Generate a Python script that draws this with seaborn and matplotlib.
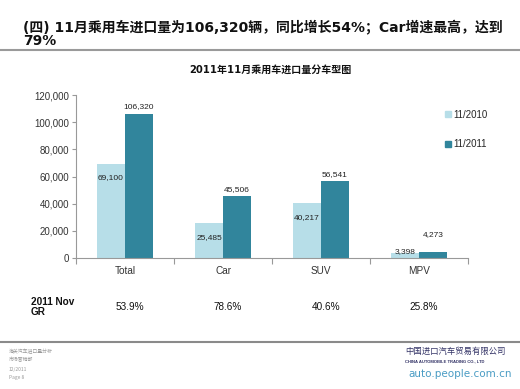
import matplotlib
matplotlib.use("Agg")
import matplotlib.pyplot as plt
import matplotlib.transforms as mtransforms
from matplotlib.lines import Line2D
import seaborn as sns
import pandas as pd

categories = ["Total", "Car", "SUV", "MPV"]
series_names = ["11/2010", "11/2011"]
values_2010 = [69100, 25485, 40217, 3398]
values_2011 = [106320, 45506, 56541, 4273]
growth_rates = ["53.9%", "78.6%", "40.6%", "25.8%"]
y_ticks = [0, 20000, 40000, 60000, 80000, 100000, 120000]

title_line1 = "(四) 11月乘用车进口量为106,320辆，同比增长54%；Car增速最高，达到"
title_line2 = "79%"
chart_title = "2011年11月乘用车进口量分车型图"
row_label = "2011 Nov\nGR"
footer_lines = ["海关汽车进口量分析", "市场营销部", "12/2011", "Page 8"]

sns.set_theme(style="white")
plt.rcParams["font.family"] = ["Liberation Sans", "Noto Sans CJK SC", "DejaVu Sans"]

light = "#b7dee8"
dark = "#31859c"

df = pd.DataFrame({
    "category": categories * 2,
    "series": [series_names[0]] * 4 + [series_names[1]] * 4,
    "value": values_2010 + values_2011,
})

fig = plt.figure(figsize=(5.2, 3.89), dpi=100)
ax = fig.add_axes([76 / 520, 1 - 258 / 389, 392 / 520, 163 / 389])

sns.barplot(data=df, x="category", y="value", hue="series",
            palette=[light, dark], width=0.57, gap=0, ax=ax,
            errorbar=None, saturation=1, legend=True, linewidth=0)

ax.set_xlim(-0.5, 3.5)
ax.set_ylim(0, 120000)
ax.set_yticks(y_ticks)
ax.set_yticklabels([f"{v:,}" for v in y_ticks], fontsize=7, color="#333333")
ax.set_xlabel("")
ax.set_ylabel("")
ax.tick_params(axis="x", length=0, labelsize=7.2, labelcolor="#333333", pad=6)
ax.set_xticks([-0.5, 0.5, 1.5, 2.5, 3.5], minor=True)
ax.tick_params(axis="x", which="minor", length=4, color="#999999", width=0.8, bottom=True)
ax.tick_params(axis="y", length=3, color="#999999", width=0.8, left=True, pad=2)
for s in ["top", "right"]:
    ax.spines[s].set_visible(False)
for s in ["left", "bottom"]:
    ax.spines[s].set_color("#999999")
    ax.spines[s].set_linewidth(0.8)
ax.grid(False)

# value labels
for cont, vals, kind in zip(ax.containers, [values_2010, values_2011], ["old", "new"]):
    for bar, v in zip(cont, vals):
        x = bar.get_x() + bar.get_width() / 2
        h = bar.get_height()
        if kind == "old":
            dy = -10 if h > 10000 else 1
        else:
            dy = 5 if h > 10000 else 13
        ax.annotate(f"{v:,}", (x, h), xytext=(0, dy), textcoords="offset points",
                    ha="center", va="center", fontsize=6, color="#222222")

# legend
handles = [Line2D([], [], marker="s", linestyle="none", markersize=5,
                  markerfacecolor=c, markeredgecolor=c) for c in (light, dark)]
ax.legend(handles, series_names, loc="upper left",
          bbox_to_anchor=(440 / 520, 1 - 105 / 389), bbox_transform=fig.transFigure,
          frameon=False, fontsize=7, labelspacing=2.0, handlelength=0.6,
          handletextpad=0.3, borderpad=0)

# titles
fig.text(23 / 520, 1 - 28 / 389, title_line1, fontsize=10, fontweight="bold",
         va="center", ha="left", color="#111111",
         family=["DejaVu Sans", "Noto Sans CJK SC"])
fig.text(23 / 520, 1 - 41 / 389, title_line2, fontsize=10, fontweight="bold",
         va="center", ha="left", color="#111111",
         family=["DejaVu Sans", "Noto Sans CJK SC"])
fig.add_artist(Line2D([0, 1], [1 - 50 / 389] * 2, color="#9a9a9a", lw=1.5,
                      transform=fig.transFigure))
fig.text(270 / 520, 1 - 70 / 389, chart_title, fontsize=7.2, fontweight="bold",
         ha="center", va="center", color="#111111",
         family=["DejaVu Sans", "Noto Sans CJK SC"])

# growth row
fig.text(31 / 520, 1 - 307 / 389, row_label, fontsize=7.2, fontweight="bold",
         ha="left", va="center", linespacing=1.0, color="#111111")
blend = mtransforms.blended_transform_factory(ax.transData, fig.transFigure)
for i, g in enumerate(growth_rates):
    ax.text(i + 0.05, 1 - 307 / 389, g, transform=blend, fontsize=7.2,
            ha="center", va="center", color="#111111", clip_on=False)

# footer
fig.add_artist(Line2D([0, 1], [1 - 342 / 389] * 2, color="#8a8a8a", lw=1.5,
                      transform=fig.transFigure))
for k, t in enumerate(footer_lines):
    fig.text(9 / 520, 1 - (351 + 9 * k) / 389, t, fontsize=3.5, color="#999999",
             ha="left", va="center", family=["Noto Sans CJK SC", "DejaVu Sans"])
fig.text(405 / 520, 1 - 351 / 389, "中国进口汽车贸易有限公司", fontsize=6,
         color="#333366", ha="left", va="center", family=["Noto Sans CJK SC"])
fig.text(405 / 520, 1 - 361 / 389, "CHINA AUTOMOBILE TRADING CO., LTD", fontsize=3,
         color="#333366", ha="left", va="center", fontweight="bold")
fig.text(512 / 520, 1 - 374 / 389, "auto.people.com.cn", fontsize=7.5,
         color="#4a9cc4", ha="right", va="center", family=["DejaVu Sans"])

fig.savefig("out.png", dpi=100)
